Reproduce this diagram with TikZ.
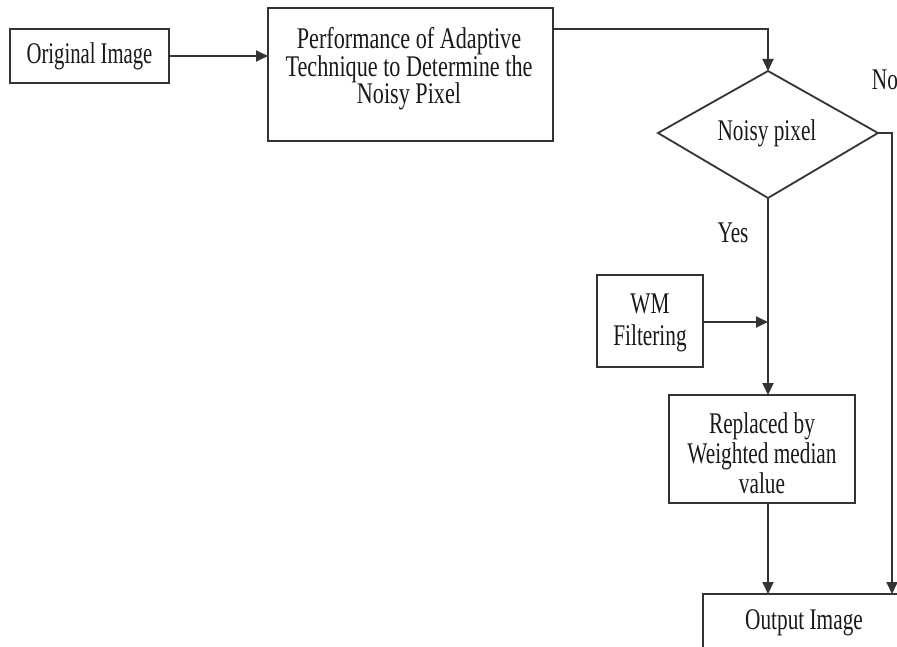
\documentclass[tikz,border=0pt]{standalone}
\usepackage{fontspec}
\setmainfont[FakeStretch=0.71]{Liberation Serif}
\newfontfamily\perffont[FakeStretch=0.74]{Liberation Serif}
\newfontfamily\origfont[FakeStretch=0.69]{Liberation Serif}
\usetikzlibrary{arrows.meta,shapes.geometric}
\begin{document}
\begin{tikzpicture}[x=1pt,y=-1pt,
  every node/.style={font=\fontsize{30}{30}\selectfont, text=black!90, inner sep=0pt},
  box/.style={draw=black!80, line width=1.8pt, align=center},
  conn/.style={draw=black!80, line width=1.8pt},
  arr/.style={conn, -{Triangle[length=12pt,width=11pt]}}]
\useasboundingbox (0,0) rectangle (897,647);
% boxes
\draw[box] (10,29) rectangle (169,83);
\node (orig) at (89.5,56) {\origfont Original Image};
\coordinate (origE) at (169,56);
\draw[box] (268,8) rectangle (553,141);
\node (perf) at (409,69) [align=center, font=\fontsize{30}{27.5}\perffont] {Performance of Adaptive\\Technique to Determine the\\Noisy Pixel};
\coordinate (perfW) at (268,56);
\coordinate (perfE) at (553,29);
% diamond
\draw[box] (768,71) -- (878,133) -- (768,198) -- (658,133) -- cycle;
\node (dia) at (767,133) {Noisy pixel};
\coordinate (diaN) at (768,71);
\coordinate (diaE) at (878,133);
\coordinate (diaS) at (768,198);
% WM
\draw[box] (597,275) rectangle (703,367);
\node (wm) at (650,323) [align=center, font=\fontsize{30}{32}\selectfont] {WM\\Filtering};
\coordinate (wmE) at (703,322);
\coordinate (join) at (768,322);
% replaced
\draw[box] (669,395) rectangle (855,503);
\node (rep) at (762,453) [align=center] {Replaced by\\Weighted median\\value};
\coordinate (repN) at (768,395);
\coordinate (repS) at (768,503);
% output
\draw[conn] (703,660) -- (703,594) -- (910,594);
\node (out) at (804,623) {Output Image};
\coordinate (outN) at (768,594);
\coordinate (outNE) at (892,594);
% labels
\node (no) at (885,80) {No};
\node (yes) at (733,233) {Yes};
% connectors
\draw[arr] (origE) -- (perfW);
\draw[arr] (perfE) -| (diaN);
\draw[arr] (diaE) -- (892,133) -- (outNE);
\draw[arr] (diaS) -- (repN);
\draw[arr] (wmE) -- (join);
\draw[arr] (repS) -- (outN);
\end{tikzpicture}
\end{document}
